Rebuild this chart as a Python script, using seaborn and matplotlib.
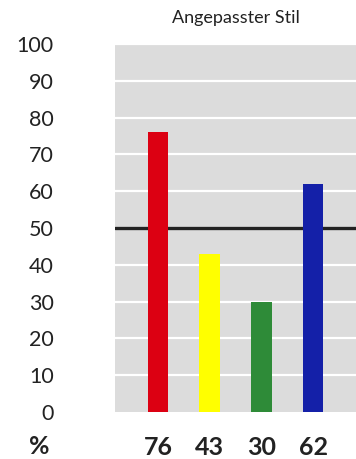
import matplotlib
matplotlib.use("Agg")
import matplotlib.pyplot as plt
import seaborn as sns
import pandas as pd

# Chart data
title = "Angepasster Stil"
values = [76, 43, 30, 62]
value_labels = ["76", "43", "30", "62"]
bar_colors = ["#DC0012", "#FFFF00", "#2E8B38", "#1420A8"]
reference_level = 50
y_ticks = [0, 10, 20, 30, 40, 50, 60, 70, 80, 90, 100]
unit_label = "%"

sns.set_theme(style="white")
plt.rcParams["font.family"] = ["Lato", "DejaVu Sans"]

df = pd.DataFrame({"label": value_labels, "value": values})

fig = plt.figure(figsize=(3.56, 4.59), dpi=100)
ax = fig.add_axes([115 / 356, 47 / 459, 241 / 356, 368 / 459])
ax.set_facecolor("#DCDCDC")

for t in y_ticks[1:]:
    ax.axhline(t, color="white", lw=1.6, zorder=0.5)
ax.axhline(reference_level, color="#222222", lw=2.4, zorder=0.8)

sns.barplot(data=df, x="label", y="value", hue="label", palette=bar_colors,
            legend=False, width=0.4, saturation=1, linewidth=0, edgecolor="none",
            ax=ax, zorder=2)

ax.set_xlim(-0.83, 3.83)
ax.set_ylim(0, 100)
ax.set_yticks(y_ticks)
ax.set_yticklabels([str(t) for t in y_ticks], fontsize=15.5, color="#222222")
ax.tick_params(axis="y", length=0, pad=44)
ax.tick_params(axis="x", length=0, pad=17)
for lbl in ax.get_xticklabels():
    lbl.set_fontsize(18)
    lbl.set_fontweight("bold")
    lbl.set_color("#222222")
ax.set_xlabel("")
ax.set_ylabel("")
for s in ax.spines.values():
    s.set_visible(False)

ax.set_title(title, fontsize=13, color="#222222", pad=15)
fig.text(39 / 356, 1 - 447 / 459, unit_label, fontsize=18, fontweight="bold",
         color="#222222", ha="center", va="center")

fig.savefig("out.png", dpi=100, facecolor="white")
